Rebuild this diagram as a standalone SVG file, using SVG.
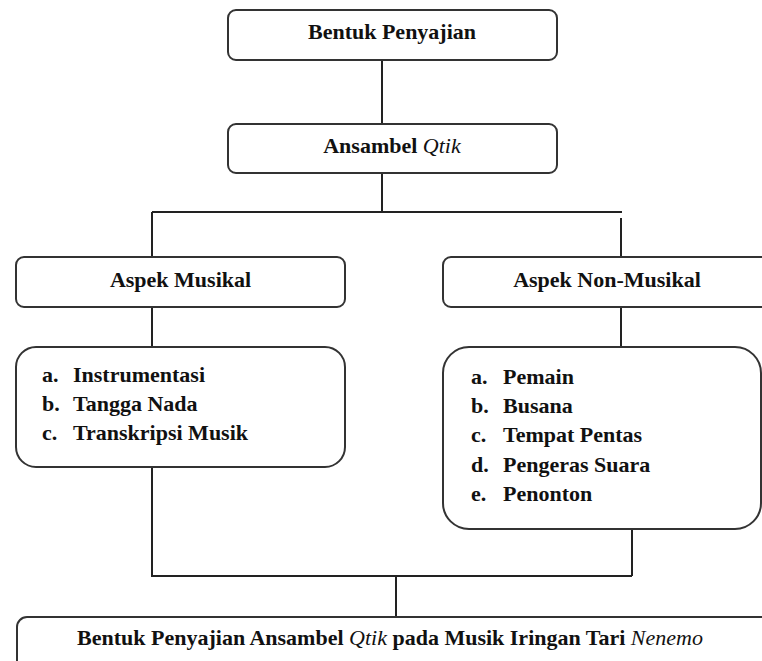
<svg xmlns="http://www.w3.org/2000/svg" width="762" height="661" viewBox="0 0 762 661">
<style>
.box{fill:#fff;stroke:#333;stroke-width:2}
.ln{fill:none;stroke:#222;stroke-width:2}
text{font-family:"Liberation Serif","Times New Roman",serif;font-weight:bold;font-size:22px;fill:#111}
.c{text-anchor:middle}
.it{font-style:italic;font-weight:normal}
</style>
<rect width="762" height="661" fill="#fff"/>
<g id="connectors">
<path class="ln" d="M382 60V124M382 173V212M152 212H622M152 212V257M621 218V257M152 307V347M621 307V347M152 467V576H632M632 529V576M396 576V617"/>
</g>
<g id="n1"><rect class="box" x="228" y="10" width="329" height="50" rx="8"/><text class="c" x="392" y="39">Bentuk Penyajian</text></g>
<g id="n2"><rect class="box" x="228" y="124" width="329" height="49" rx="8"/><text class="c" x="392" y="153">Ansambel <tspan class="it">Qtik</tspan></text></g>
<g id="n3"><rect class="box" x="16" y="257" width="329" height="50" rx="8"/><text class="c" x="180.5" y="287">Aspek Musikal</text></g>
<g id="n4"><rect class="box" x="443" y="257" width="330" height="50" rx="8"/><text class="c" x="607" y="287">Aspek Non-Musikal</text></g>
<g id="n5"><rect class="box" x="16" y="347" width="329" height="120" rx="20"/>
<text x="42" y="382">a.</text><text x="73" y="382">Instrumentasi</text>
<text x="42" y="411">b.</text><text x="73" y="411">Tangga Nada</text>
<text x="42" y="440">c.</text><text x="73" y="440">Transkripsi Musik</text></g>
<g id="n6"><rect class="box" x="443" y="347" width="318" height="182" rx="26"/>
<text x="471" y="384">a.</text><text x="503" y="384">Pemain</text>
<text x="471" y="413">b.</text><text x="503" y="413">Busana</text>
<text x="471" y="442">c.</text><text x="503" y="442">Tempat Pentas</text>
<text x="471" y="472">d.</text><text x="503" y="472">Pengeras Suara</text>
<text x="471" y="501">e.</text><text x="503" y="501">Penonton</text></g>
<g id="n7"><rect class="box" x="17" y="617" width="760" height="60" rx="10"/><text class="c" x="390" y="645">Bentuk Penyajian Ansambel <tspan class="it">Qtik</tspan> pada Musik Iringan Tari <tspan class="it">Nenemo</tspan></text></g>
</svg>
